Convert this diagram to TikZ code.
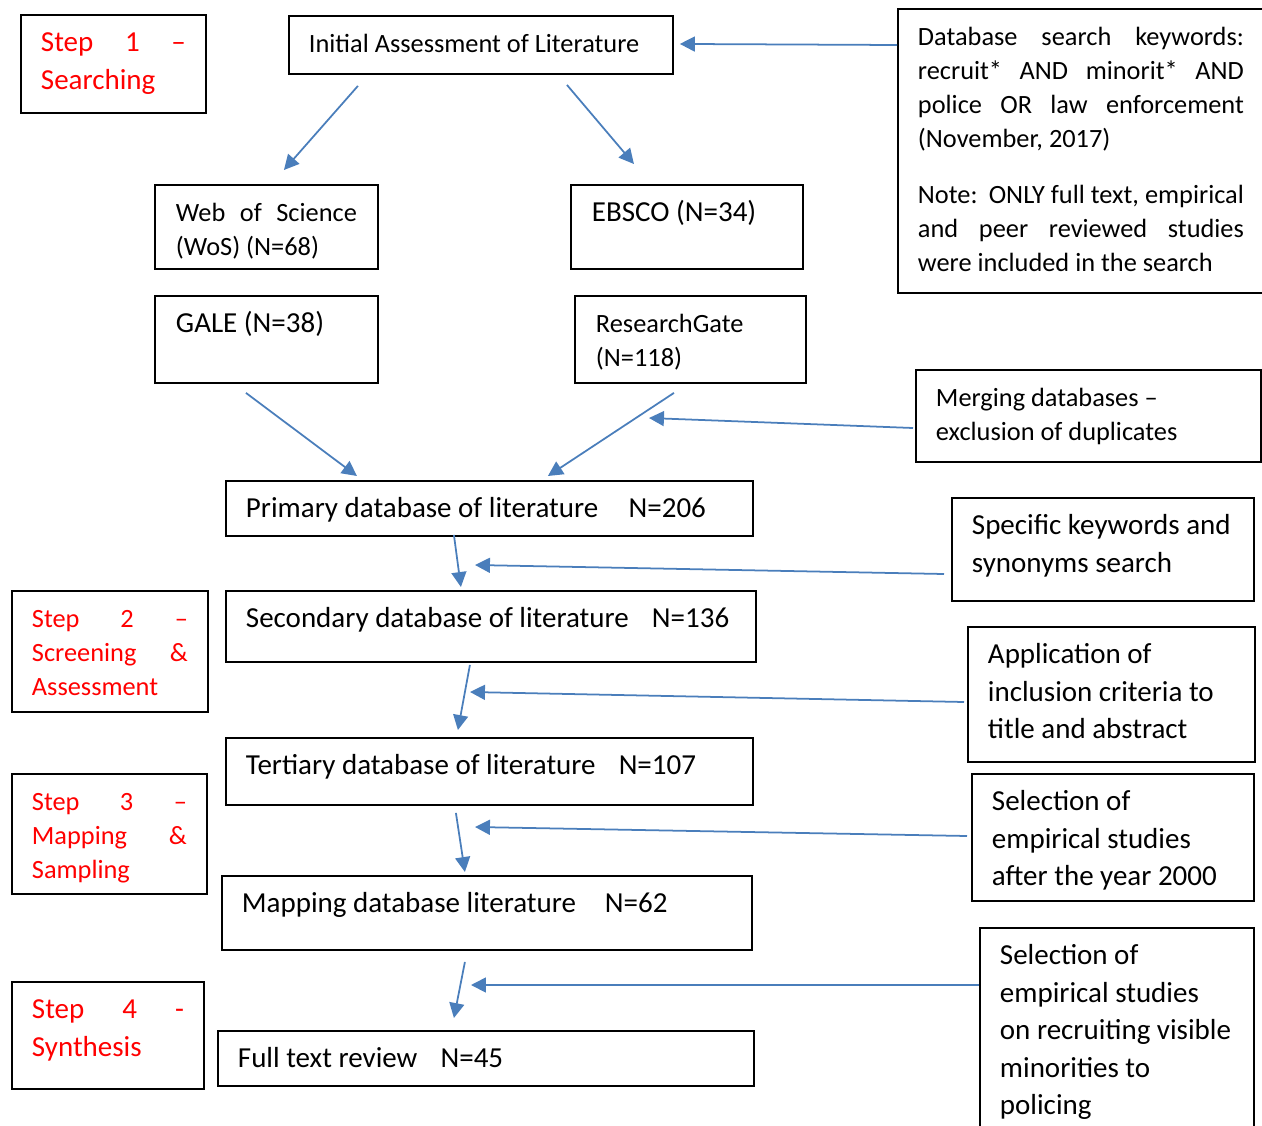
\documentclass[tikz,border=0pt]{standalone}
\usepackage{fontspec}
\setmainfont{Carlito}
\usetikzlibrary{arrows.meta}
\definecolor{flowblue}{HTML}{4A7EBB}
\tikzset{
    box/.style={draw, line width=1.1pt, anchor=north west, inner ysep=0pt, inner xsep=0.4cm, align=flush left, text height=0.74cm},
    smalltxt/.style={font=\fontsize{15}{19.35}\selectfont},
    bigtxt/.style={font=\fontsize{16.5}{21.3}\selectfont},
    steptxt/.style={text=red},
    flow/.style={-{Triangle[length=8.5pt,width=8.5pt]}, line width=1pt, color=flowblue},
}

\begin{document}
\begin{tikzpicture}[x=0.02cm, y=-0.02cm]
        \useasboundingbox (0,0) rectangle (1262,1126);
        \clip (0,0) rectangle (1262,1126);
        \node[box, bigtxt, steptxt, text width=2.9cm, text depth=1.22cm](step1) at (20,14) {Step\hfill 1\hfill –\\Searching};
        \node[box, smalltxt, steptxt, text width=3.12cm, text depth=1.68cm](step2) at (11,590) {Step\hfill 2\hfill –\\Screening\hfill \&\\Assessment};
        \node[box, smalltxt, steptxt, text width=3.1cm, text depth=1.66cm](step3) at (11,773) {Step\hfill 3\hfill –\\Mapping\hfill \&\\Sampling};
        \node[box, bigtxt, steptxt, text width=3.04cm, text depth=1.4cm](step4) at (11,981) {Step\hfill 4\hfill -\\Synthesis};
        \node[box, smalltxt, text width=6.88cm, text depth=0.42cm](init) at (288,15) {Initial Assessment of Literature};
        \node[box, smalltxt, inner xsep=0.42cm, text width=3.62cm, text depth=0.94cm](wos) at (154,184) {Web\hfill of\hfill Science\\(WoS) (N=68)};
        \node[box, bigtxt, inner xsep=0.42cm, text width=3.8cm, text depth=0.94cm](ebsco) at (570,184) {EBSCO (N=34)};
        \node[box, bigtxt, inner xsep=0.42cm, text width=3.62cm, text depth=1.0cm](gale) at (154,295) {GALE (N=38)};
        \node[box, smalltxt, inner xsep=0.42cm, text width=3.78cm, text depth=1.0cm](rg) at (574,295) {ResearchGate\\(N=118)};
        \node[box, smalltxt, text width=6.52cm, text depth=4.94cm](keys) at (897,8) {Database\hfill search\hfill keywords:\\recruit*\hfill AND\hfill minorit*\hfill AND\\police\hfill OR\hfill law\hfill enforcement\\(November, 2017)\\[0.44cm]Note:\hfill ONLY full text, empirical\\and\hfill peer\hfill reviewed\hfill studies\\were included in the search};
        \node[box, smalltxt, text width=6.1cm, text depth=1.1cm](merge) at (915,369) {Merging databases –\\exclusion of duplicates};
        \node[box, bigtxt, text width=9.74cm, text depth=0.36cm](prim) at (225,480) {Primary database of literature\hspace{1.05em}N=206};
        \node[box, bigtxt, text width=5.24cm, text depth=1.32cm](spec) at (951,497) {Specific keywords and\\synonyms search};
        \node[box, bigtxt, text width=9.8cm, text depth=0.68cm](sec) at (225,590) {Secondary database of literature\hspace{0.8em}N=136};
        \node[box, bigtxt, text width=4.94cm, text depth=1.96cm](incl) at (967,626) {Application of\\inclusion criteria to\\title and abstract};
        \node[box, bigtxt, text width=9.74cm, text depth=0.6cm](tert) at (225,737) {Tertiary database of literature\hspace{0.8em}N=107};
        \node[box, bigtxt, text width=4.84cm, text depth=1.8cm](sel) at (971,773) {Selection of\\empirical studies\\after the year 2000};
        \node[box, bigtxt, text width=9.8cm, text depth=0.74cm](map) at (221,875) {Mapping database literature\hspace{1.0em}N=62};
        \node[box, bigtxt, text width=4.68cm, text depth=3.66cm](selmin) at (979,927) {Selection of\\empirical studies\\on recruiting visible\\minorities to\\policing};
        \node[box, bigtxt, text width=9.92cm, text depth=0.36cm](full) at (217,1030) {Full text review\hspace{0.8em}N=45};
        \coordinate (mergetip) at (649,418);
        \coordinate (spectip) at (475,565);
        \coordinate (incltip) at (470,692);
        \coordinate (seltip) at (475,827);
        \coordinate (mintip) at (471,985);
        \path
            ([shift={(0,37)}]keys.north west) edge[flow] ([shift={(6,-1)}]init.east)
            ([shift={(-123,11)}]init.south) edge[flow] ([shift={(17.5,-14)}]wos.north)
            ([shift={(86,10)}]init.south) edge[flow] ([shift={(-53,-20)}]ebsco.north)
            ([shift={(-20.5,9)}]gale.south) edge[flow] ([shift={(-132.5,-4)}]prim.north)
            ([shift={(-16.5,9)}]rg.south) edge[flow] ([shift={(58.5,-4)}]prim.north)
            ([shift={(-2,59)}]merge.north west) edge[flow] (mergetip)
            ([shift={(-35.5,-2)}]prim.south) edge[flow] ([shift={(-30,-3)}]sec.north)
            ([shift={(-7,77)}]spec.north west) edge[flow] (spectip)
            ([shift={(-21,2)}]sec.south) edge[flow] ([shift={(-31.5,-7)}]tert.north)
            ([shift={(-3,76)}]incl.north west) edge[flow] (incltip)
            ([shift={(-33.5,7)}]tert.south) edge[flow] ([shift={(-22,-3)}]map.north)
            ([shift={(-4,63)}]sel.north west) edge[flow] (seltip)
            ([shift={(-22,11)}]map.south) edge[flow] ([shift={(-32,-12)}]full.north)
            ([shift={(0,58)}]selmin.north west) edge[flow] (mintip)
            ;
\end{tikzpicture}
\end{document}
